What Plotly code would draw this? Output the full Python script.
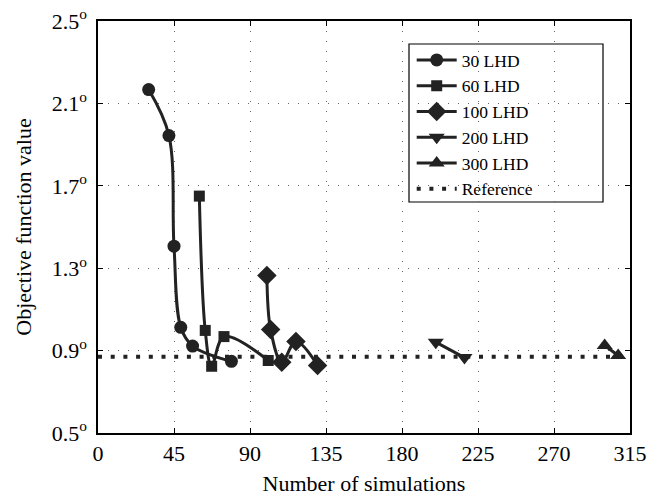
import plotly.graph_objects as go

# Objective function value versus number of simulations for each LHD start size
lhd30_x = [30, 42, 45, 49, 56, 79]
lhd30_y = [2.167, 1.944, 1.407, 1.013, 0.922, 0.848]

lhd60_x = [60, 63.5, 67.3, 74.6, 100.8]
lhd60_y = [1.650, 0.998, 0.824, 0.968, 0.852]

lhd100_x = [100, 102.2, 108.8, 117.2, 130]
lhd100_y = [1.265, 1.002, 0.844, 0.944, 0.828]

lhd200_x = [200, 217]
lhd200_y = [0.941, 0.866]

lhd300_x = [300, 308]
lhd300_y = [0.925, 0.876]

ref_x = [0, 315]
ref_y = [0.87, 0.87]

x_ticks = [0, 45, 90, 135, 180, 225, 270, 315]
y_ticks = [0.5, 0.9, 1.3, 1.7, 2.1, 2.5]
y_tick_text = [f"{v:.1f}<sup>o</sup>" for v in y_ticks]

INK = "#222222"
FONT = "Liberation Serif"

series = [
    ("30 LHD", lhd30_x, lhd30_y, "circle", 13),
    ("60 LHD", lhd60_x, lhd60_y, "square", 11),
    ("100 LHD", lhd100_x, lhd100_y, "diamond", 15),
    ("200 LHD", lhd200_x, lhd200_y, "triangle-down", 14),
    ("300 LHD", lhd300_x, lhd300_y, "triangle-up", 14),
]

fig = go.Figure()
for name, xs, ys, sym, size in series:
    fig.add_trace(go.Scatter(
        x=xs, y=ys, name=name, mode="lines+markers",
        line=dict(color=INK, width=3, shape="spline", smoothing=1.0),
        marker=dict(symbol=sym, size=size, color=INK),
    ))

fig.add_trace(go.Scatter(
    x=ref_x, y=ref_y, name="Reference", mode="lines",
    line=dict(color=INK, width=4, dash="4px,8.7px"),
))

axis_common = dict(
    showline=True, linecolor="black", linewidth=1.5, mirror="ticks",
    ticks="inside", ticklen=5, tickwidth=1, tickcolor="black",
    showgrid=True, gridcolor="#666666", gridwidth=1, griddash="1px,9px",
    zeroline=False, automargin=False,
    tickfont=dict(family=FONT, size=22, color="black"),
)

fig.update_xaxes(
    range=[0, 315], tickvals=x_ticks, ticktext=[str(v) for v in x_ticks],
    title=dict(text="Number of simulations", font=dict(family=FONT, size=22, color="black"), standoff=10),
    ticklabelstandoff=0,
    **axis_common,
)
fig.update_yaxes(
    range=[0.5, 2.5], tickvals=y_ticks, ticktext=y_tick_text,
    title=dict(text="Objective function value", font=dict(family=FONT, size=22, color="black"), standoff=14),
    ticklabelstandoff=5,
    **axis_common,
)

# legend frame
fig.add_shape(type="rect", xref="paper", yref="paper",
              x0=(409 - 98) / 532, x1=(603 - 98) / 532,
              y0=(433 - 202) / 412, y1=(433 - 44) / 412,
              line=dict(color="black", width=1.2), fillcolor="white", layer="below")

fig.update_layout(
    width=662, height=497,
    margin=dict(l=98, r=32, t=21, b=64),
    paper_bgcolor="white", plot_bgcolor="rgba(0,0,0,0)",
    font=dict(family=FONT, size=20, color="black"),
    showlegend=True,
    legend=dict(
        x=(411.7 - 98) / 532, y=(433 - 42) / 412, xanchor="left", yanchor="top",
        bgcolor="rgba(0,0,0,0)", borderwidth=0, itemwidth=40,
        font=dict(family=FONT, size=17.5, color="black"),
        tracegroupgap=0,
    ),
)

fig.write_html("out.html")
